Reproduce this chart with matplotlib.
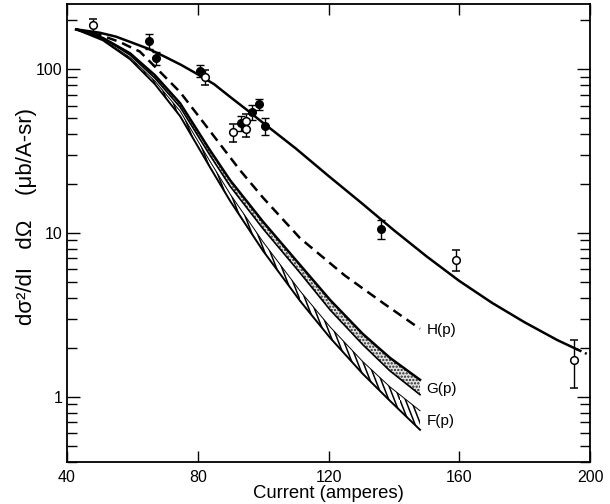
import matplotlib
matplotlib.use("Agg")
import numpy as np
import matplotlib.pyplot as plt
import matplotlib.hatch as mhatch
from matplotlib.path import Path

plt.rcParams['font.family'] = ['Liberation Sans', 'DejaVu Sans']
plt.rcParams['hatch.linewidth'] = 1.1
plt.rcParams['hatch.color'] = 'black'

BS = chr(92)


# steeper "\" hatching (about 68 degrees) so the strokes cross the narrow band
class SteepSouthEastHatch(mhatch.HatchPatternBase):
    def __init__(self, hatch, density):
        self.num_lines = int(hatch.count(BS) * density)
        self.num_vertices = self.num_lines * 4

    def set_vertices_and_codes(self, vertices, codes):
        n = self.num_lines
        w = max(1, round(0.39 * n)) / n
        pts = []
        for k in range(n):
            a = k / n
            if a + w <= 1:
                pts += [(a, 1), (a + w, 0), (a + w, 0), (a + w, 0)]
            else:
                y1 = 1 - (1 - a) / w
                pts += [(a, 1), (1, y1), (0, y1), (a + w - 1, 0)]
        vertices[:] = np.array(pts)
        codes[0::2] = Path.MOVETO
        codes[1::2] = Path.LINETO


try:
    mhatch._hatch_types = [SteepSouthEastHatch if t is mhatch.SouthEastHatch else t
                           for t in mhatch._hatch_types]
except Exception:
    pass

# ---- data (current in amperes, cross section in ub/A-sr) ----
fit_x = [42.8, 50, 55, 60, 65, 70, 75, 80, 85, 90, 95, 100, 110, 120, 130, 140, 150, 160, 170, 180, 190, 196]
fit_y = [175, 167, 158, 145, 133, 119, 106, 93, 81, 67.5, 56.5, 47, 32.8, 22.3, 15.3, 10.4, 7.2, 5.1, 3.75, 2.85, 2.22, 1.95]
fit_tail_x = [196, 199]
fit_tail_y = [1.95, 1.83]

h_x = [42.8, 50, 56, 62.3, 68, 74.6, 80, 86, 92.9, 100, 111.3, 125, 137, 148]
h_y = [175, 162, 147, 128, 98.5, 72.4, 52.5, 36.6, 24.2, 16.4, 9.3, 5.5, 3.7, 2.6]

band_x = [42.8, 51, 59.3, 66.9, 74.6, 83.7, 89.9, 100, 111.3, 120.5, 130.5, 138.8, 148]
g_upper = [175, 155, 125, 91.9, 62.0, 32.1, 21.0, 11.7, 6.38, 3.90, 2.42, 1.73, 1.27]
g_lower = [175, 155, 122, 88.1, 58.7, 29.9, 19.3, 10.6, 5.71, 3.39, 2.08, 1.44, 1.03]
f_upper = [175, 152, 118, 84.5, 55.5, 27.5, 17.3, 8.81, 4.43, 2.67, 1.64, 1.15, 0.822]
f_lower = [175, 150, 115, 81.0, 51.7, 25.3, 15.7, 7.77, 3.85, 2.29, 1.38, 0.945, 0.629]

filled_x = [65.1, 67.2, 80.7, 93.2, 96.6, 98.7, 100.6, 136.0]
filled_y = [148, 117, 98, 46.9, 54.7, 61.2, 44.9, 10.6]
filled_err = [16, 11, 8, 5, 6, 5, 5.5, 1.4]

open_x = [48.0, 82.2, 90.8, 94.7, 94.7, 159.0, 195.0]
open_y = [185, 89.4, 41.3, 48.1, 43.0, 6.84, 1.68]
open_err = [18, 9, 5.2, 5, 4.5, 1.0, 0.55]

labels = ["H(p)", "G(p)", "F(p)"]
label_x = [150.2, 150.0, 150.0]
label_y = [2.55, 1.11, 0.71]

# ---- figure ----
fig = plt.figure(figsize=(6.10, 5.04), dpi=100)
ax = fig.add_axes([67/610, 42/504, 523/610, 458/504])
ax.set_yscale('log')
ax.set_xlim(40, 200)
ax.set_ylim(0.4, 250)

lw = 1.8
# G(p) band: stippled
ax.fill_between(band_x, g_lower, g_upper, facecolor='#e4e4e4',
                edgecolor='#222222', hatch='.....', linewidth=0.0, zorder=1)
# F(p) band: diagonal hatching
ax.fill_between(band_x, f_lower, f_upper, facecolor='white',
                edgecolor='black', hatch=BS * 3, linewidth=0.0, zorder=1)
ax.plot(band_x, g_upper, color='black', lw=lw, zorder=2)
ax.plot(band_x, g_lower, color='black', lw=1.2, zorder=2)
ax.plot(band_x, f_upper, color='black', lw=0.7, zorder=2)
ax.plot(band_x, f_lower, color='black', lw=1.4, zorder=2)

ax.plot(h_x, h_y, color='black', lw=lw, dashes=(4, 2.4), zorder=2)
ax.plot(fit_x, fit_y, color='black', lw=lw, zorder=2)
ax.plot(fit_tail_x, fit_tail_y, color='black', lw=lw, dashes=(2, 1.5), zorder=2)

ax.errorbar(filled_x, filled_y, yerr=filled_err, fmt='o', color='black', ms=5.5,
            mfc='black', mec='black', ecolor='black', elinewidth=1.0, capsize=3,
            capthick=1.0, zorder=4)
ax.errorbar(open_x, open_y, yerr=open_err, fmt='o', color='black', ms=5.5,
            mfc='white', mec='black', mew=1.1, ecolor='black', elinewidth=1.0,
            capsize=3, capthick=1.0, zorder=4)

for t, x, y in zip(labels, label_x, label_y):
    ax.text(x, y, t, ha='left', va='center', fontsize=11)

ax.set_xticks([40, 80, 120, 160, 200])
ax.set_xticklabels(['40', '80', '120', '160', '200'])
ax.set_yticks([1, 10, 100])
ax.set_yticklabels(['1', '10', '100'])
ax.tick_params(axis='both', which='both', direction='in', top=True, right=True)
ax.tick_params(axis='x', which='major', length=8, width=1.0, labelsize=11.5, pad=6)
ax.tick_params(axis='x', which='minor', bottom=False, top=False)
ax.tick_params(axis='y', which='major', length=9.5, width=1.0, labelsize=11.5, pad=3.5)
ax.tick_params(axis='y', which='minor', length=7.5, width=1.0)
for s in ax.spines.values():
    s.set_linewidth(1.3)

ax.set_xlabel('Current (amperes)', fontsize=13.3)
ax.xaxis.set_label_coords(0.5, -0.050)
ax.set_ylabel('dσ²/dI   dΩ    (μb/A-sr)', fontsize=16)
ax.yaxis.set_label_coords(-0.058, 0.537)

fig.savefig('out.png', dpi=100)
